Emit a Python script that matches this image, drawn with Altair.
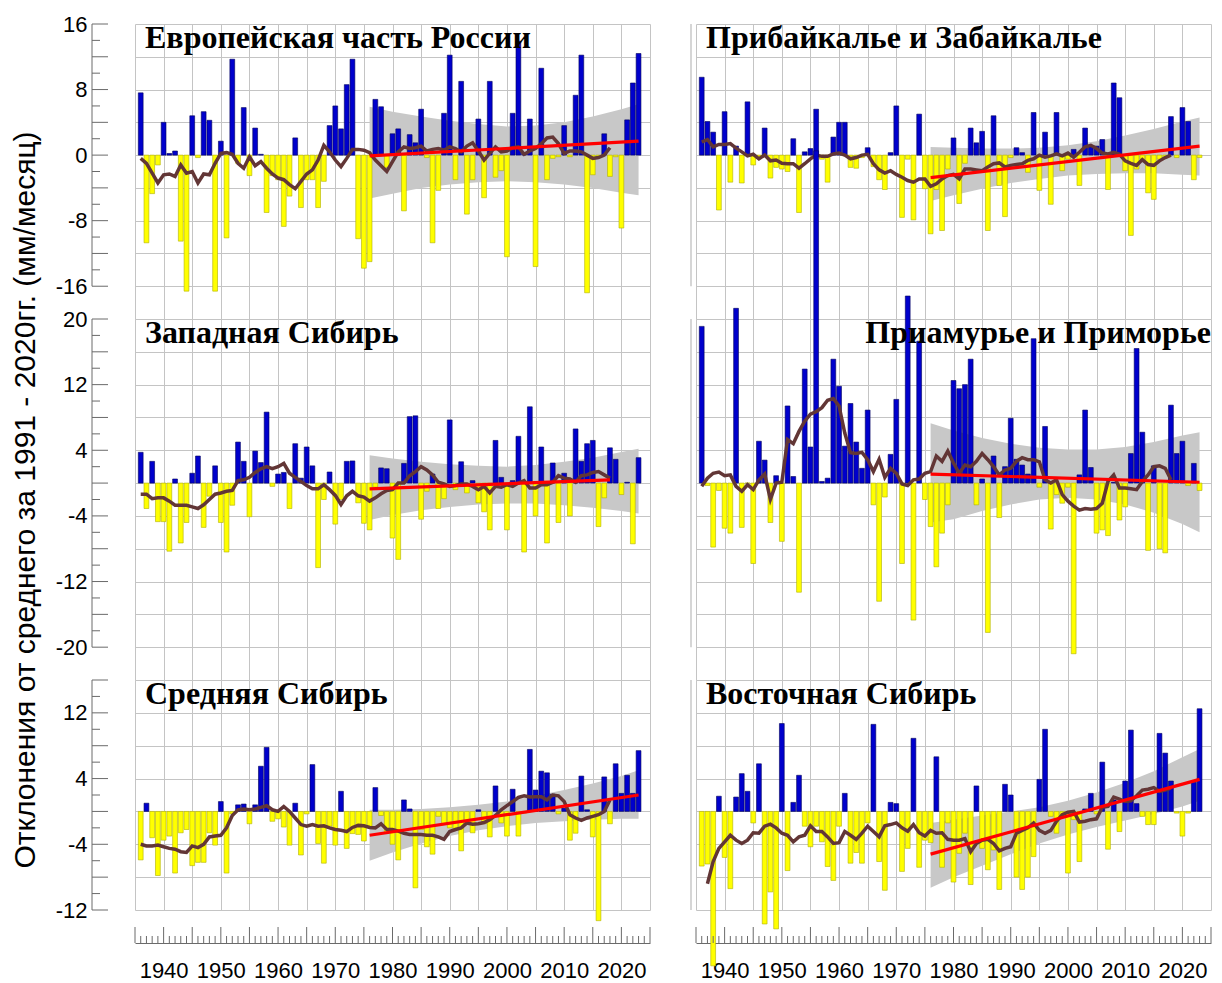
import altair as alt
import pandas as pd

# ---------------- data ----------------
years = list(range(1936, 2024))
line_years = list(range(1936, 2019))
line_years_vost = list(range(1937, 2019))
band_years = [1976, 1980, 1985, 1990, 1995, 2000, 2005, 2010, 2015, 2020, 2023]

eur_vals = [7.6, -10.7, -4.7, -1.2, 4.0, 0.2, 0.5, -10.5, -16.6, 4.8,
            -0.3, 5.3, 4.25, -16.6, 1.7, -10.1, 11.7, -1.0, 5.8, -2.5,
            3.3, 0.1, -7.0, -2.5, -3.0, -8.7, -5.0, 2.1, -6.4, -3.0,
            -3.0, -6.4, -3.2, 3.6, 6.0, 3.2, 8.6, 11.7, -10.2, -13.8,
            -13.0, 6.8, 5.9, -1.5, 2.6, 3.2, -6.8, 2.5, 1.5, 5.6,
            -0.3, -10.7, -4.3, 5.1, 12.2, -3.0, 9.0, -7.2, -3.0, 4.4,
            -5.2, 9.0, -2.7, -1.9, -12.4, 5.1, 13.9, 0.3, 4.4, -13.6,
            10.6, -3.0, -0.4, -0.2, 3.6, -0.2, 7.3, 12.2, -16.8, -2.4,
            -0.2, 2.6, -2.6, -0.2, -8.9, 4.3, 8.8, 12.4]
eur_line = [-0.4, -1.0, -2.2, -3.4, -2.4, -2.3, -2.6, -1.2, -2.2, -2.0,
            -3.4, -2.3, -2.4, -1.0, 0.2, 0.3, 0.1, -1.0, -1.6, -0.2,
            -1.3, -0.8, -1.6, -2.3, -2.8, -3.0, -3.6, -4.1, -3.2, -2.3,
            -1.8, -0.6, 1.2, 0.4, -0.6, -1.4, -0.4, 0.7, 0.7, 0.6,
            0.3, -0.6, -1.3, -2.0, -0.8, 0.4, 1.0, 0.8, 0.9, 1.1,
            0.5, 0.7, 0.8, 0.6, 1.0, 0.8, 0.4, 1.1, 1.5, 0.5,
            -0.6, 0.2, 1.0, 0.4, 0.5, 0.9, 1.0, 0.1, 0.5, 0.8,
            1.4, 2.1, 2.2, 1.4, 0.2, 0.5, 0.5, 0.4, 0.0, -0.4,
            -0.3, 0.0, 0.9]
eur_trend_years = [1976, 2023]
eur_trend = [-0.1, 1.7]
eur_hi = [5.9, 5.3, 4.7, 4.2, 3.8, 3.5, 3.6, 4.0, 4.7, 5.6, 6.2]
eur_lo = [-5.3, -4.7, -4.0, -3.6, -3.3, -3.2, -3.3, -3.6, -4.0, -4.6, -4.9]

zap_vals = [3.75, -3.1, 2.65, -4.7, -4.7, -8.3, 0.5, -7.3, -4.8, 1.2,
            3.3, -5.4, -1.6, 2.1, -4.8, -8.4, -2.7, 5.0, 2.65, -4.1,
            3.9, 2.5, 8.65, -0.4, 1.1, 1.3, -3.1, 4.8, 0.6, 4.4,
            2.1, -10.3, -2.0, 1.35, -5.0, -2.0, 2.65, 2.7, -2.4, -4.9,
            -5.7, -0.5, 1.85, 1.75, -6.7, -9.3, 2.4, 8.1, 8.2, -4.4,
            -1.0, 1.1, -3.1, -1.9, 7.7, -0.8, 2.6, -1.2, 0.3, -2.4,
            -3.5, -5.7, 5.2, 0.7, -5.7, 0.3, 5.7, -8.4, 9.3, -4.0,
            4.4, -7.3, 2.45, -4.8, 1.2, -4.0, 6.6, 2.65, 4.8, 5.2,
            -5.3, -1.8, 4.3, 2.9, -1.4, 0.1, -7.4, 3.1]
zap_line = [-1.35, -1.35, -1.9, -1.8, -1.8, -2.2, -2.7, -2.7, -2.7, -2.9,
            -3.1, -2.65, -2.0, -1.35, -1.2, -1.0, -0.9, 0.3, 0.4, 0.7,
            1.3, 1.75, 2.0, 1.75, 2.0, 2.4, 1.2, 0.7, 0.2, -0.3,
            -0.7, -0.7, -0.2, -0.8, -1.5, -2.6, -1.55, -1.0, -1.55, -1.7,
            -2.2, -1.8, -1.3, -0.9, -0.8, 0.0, 0.0, 0.9, 1.4, 2.0,
            1.6, 1.0, 0.1, -0.1, -0.4, -0.3, -0.1, -0.1, -0.4, -0.8,
            -0.4, -1.2, -0.4, -0.5, -0.2, -0.4, 0.0, 0.3, -0.6, -0.6,
            -0.2, -0.2, 0.1, 0.9, 0.6, 0.5, 0.1, 0.9, 1.0, 1.3,
            1.4, 1.0, 0.6]
zap_trend_years = [1976, 2018]
zap_trend = [-0.7, 0.4]
zap_hi = [3.4, 3.0, 2.6, 2.3, 2.1, 2.0, 2.2, 2.6, 3.1, 3.8, 4.2]
zap_lo = [-4.5, -3.9, -3.3, -2.9, -2.6, -2.5, -2.5, -2.7, -3.0, -3.4, -3.7]

sred_vals = [-5.9, 1.0, -3.2, -7.8, -3.5, -3.0, -7.5, -2.6, -2.2, -6.6,
             -6.2, -6.2, -2.6, -4.1, 1.2, -7.5, -0.3, 0.8, 0.9, -1.5,
             0.8, 5.5, 7.8, -1.2, -0.9, -1.9, -4.1, 1.0, -5.3, -0.3,
             5.7, -3.9, -6.3, -1.8, -4.1, 2.45, -4.5, -2.7, -2.8, -3.6,
             -1.8, 2.9, -0.5, -2.6, -4.0, -5.9, 1.4, 0.3, -9.3, -2.2,
             -4.3, -5.2, -0.6, -1.5, -2.0, -2.2, -4.8, -1.6, -2.6, 0.2,
             -1.5, -3.1, 3.1, -1.4, -3.0, 2.7, -3.0, -0.2, 7.55, 2.6,
             4.9, 4.7, 2.1, -0.3, 0.4, -3.5, -2.65, 4.3, 0.2, -3.1,
             -13.3, 4.2, -1.5, 5.8, 2.2, 4.4, 2.2, 7.4]
sred_line = [-4.0, -4.2, -4.2, -4.1, -4.3, -4.5, -4.6, -4.9, -5.0, -4.2,
             -4.4, -4.0, -3.1, -3.0, -2.9, -2.0, -0.5, 0.2, 0.3, 0.2,
             0.3, 0.5, 0.7, 0.2, 0.0, 0.6, 0.0, -0.8, -1.6, -1.8,
             -1.6, -1.8, -1.75, -2.0, -2.2, -2.3, -2.45, -1.95, -1.7, -1.75,
             -1.95, -2.0, -1.5, -2.2, -2.2, -2.4, -2.65, -2.8, -2.8, -2.8,
             -2.9, -2.9, -3.1, -3.4, -2.45, -2.2, -2.0, -1.4, -1.55, -1.5,
             -1.35, -1.0, -0.5, 0.2, 0.7, 1.2, 1.7, 1.9, 1.75, 1.8,
             1.8, 1.4, 2.0, 1.9, 1.2, -0.4, -0.8, -1.1, -0.8, -0.6,
             -0.4, 0.0, 1.4]
sred_trend_years = [1976, 2023]
sred_trend = [-2.9, 2.0]
sred_hi = [0.2, 0.2, 0.3, 0.5, 0.8, 1.2, 1.9, 2.6, 3.4, 4.3, 5.0]
sred_lo = [-6.0, -5.0, -3.9, -3.0, -2.3, -1.8, -1.4, -1.2, -1.0, -0.9, -0.9]

prib_vals = [9.5, 4.1, 2.8, -6.7, 5.3, -3.3, 1.1, -3.4, 6.5, -1.2,
             -0.3, 3.3, -2.8, -1.5, -1.7, -2.0, 2.0, -7.0, 0.4, 0.8,
             5.6, -0.5, -3.3, 2.2, 4.0, 4.0, -1.5, -1.6, -0.3, 0.9,
             -1.4, -3.0, -4.2, 0.3, 6.0, -7.6, -0.5, -7.9, 5.0, -4.1,
             -9.6, -4.2, -9.2, -1.7, 2.1, -5.9, -1.0, 3.3, 1.5, 2.9,
             -9.2, 4.8, -3.7, -7.5, -0.3, 0.9, 0.3, -2.1, 5.2, -4.3,
             2.8, -6.0, 5.2, -1.9, -0.5, 0.7, -3.7, 3.3, 1.0, 1.1,
             1.9, -4.2, 8.8, 7.0, -1.9, -9.8, -1.7, -0.5, -4.6, -5.4,
             -0.5, -0.3, 4.7, -0.3, 5.8, 4.1, -3.0, -0.3]
prib_line = [1.6, 1.9, 1.0, 1.3, 1.3, 1.4, 0.85, 0.4, -0.1, 0.1,
             -0.45, 0.0, -0.7, -0.6, -1.0, -1.05, -1.05, -1.6, -1.05, -0.45,
             0.0, -0.15, -0.15, 0.15, 0.25, 0.0, -0.45, -0.3, 0.0, 0.1,
             -1.05, -1.8, -2.2, -1.9, -2.35, -2.7, -3.1, -3.3, -2.9, -2.9,
             -3.8, -3.5, -2.9, -2.5, -2.35, -2.9, -1.7, -1.7, -1.8, -1.9,
             -1.45, -1.05, -0.95, -1.45, -1.25, -1.15, -1.05, -0.65, -0.45, 0.0,
             -0.25, -0.1, 0.15, -0.1, 0.25, -0.25, 0.35, 1.0, 1.2, 0.8,
             0.25, 0.15, 0.35, 0.1, -0.7, -1.0, -1.25, -0.55, -1.15, -1.25,
             -0.7, -0.3, 0.0]
prib_trend_years = [1976, 2023]
prib_trend = [-2.75, 1.1]
prib_hi = [1.0, 0.9, 0.8, 0.8, 0.9, 1.2, 1.7, 2.4, 3.2, 4.1, 4.6]
prib_lo = [-5.6, -4.9, -4.1, -3.4, -2.9, -2.5, -2.3, -2.2, -2.2, -2.4, -2.5]

priam_vals = [19.1, -0.3, -7.8, -0.9, -5.5, -6.1, 21.3, -5.4, 0.0, -9.8,
              5.1, 2.8, -4.8, 0.9, -7.1, 9.4, 0.8, -13.3, 13.9, 4.4,
              40.5, 0.2, 0.6, 15.1, 11.8, 4.5, 9.7, 5.0, 1.8, 8.9,
              -2.65, -14.4, -1.7, 3.5, 10.2, -9.8, 22.8, -16.7, 17.3, -2.0,
              -5.3, -10.2, -6.1, -2.65, 12.5, 11.5, 12.0, 15.1, -2.65, 0.5,
              -18.2, 3.3, -4.2, 2.0, 7.9, 2.9, 2.2, 1.1, 17.6, -0.5,
              6.9, -5.6, -1.4, -2.45, -0.5, -20.8, 1.0, 8.9, 1.9, -6.1,
              -5.7, -6.4, 0.1, -4.5, -2.9, 3.6, 16.4, 6.2, -8.2, 2.1,
              -8.0, -8.5, 9.5, 3.6, 5.1, -0.3, 2.4, -0.9]
priam_line = [-0.4, 0.6, 1.2, 1.35, 0.9, 1.0, -0.4, -1.0, -0.2, -0.8,
              0.4, 1.1, -2.0, 0.0, 0.1, 5.3, 4.8, 6.3, 7.55, 8.4,
              8.7, 9.2, 10.1, 10.3, 9.4, 6.1, 3.7, 3.6, 3.75, 2.85,
              1.4, 2.9, 0.7, 1.8, 1.2, -0.1, -0.3, 0.4, 0.5, 1.2,
              1.4, 3.3, 2.65, 3.9, 2.45, 1.2, 2.2, 2.0, 2.65, 3.6,
              2.85, 2.0, 1.0, 1.6, 1.8, 2.65, 3.1, 2.85, 2.85, 2.6,
              0.4, 0.0, 0.4, -1.4, -2.2, -2.8, -3.3, -3.1, -3.2, -3.1,
              -2.45, 0.2, 1.0, -0.6, -0.6, -0.7, -0.8, 0.2, 1.0, 2.0,
              2.1, 1.8, 0.4]
priam_trend_years = [1976, 2023]
priam_trend = [1.1, 0.1]
priam_hi = [7.3, 6.4, 5.5, 4.8, 4.3, 4.1, 4.1, 4.4, 5.0, 5.8, 6.2]
priam_lo = [-4.8, -4.4, -3.4, -2.6, -2.0, -1.8, -2.0, -2.6, -3.6, -5.0, -6.0]

vost_vals = [-6.65, -6.4, -18.8, 1.85, -5.6, -9.4, 1.75, 4.6, 2.45, -1.4,
             5.8, -13.7, -9.8, -14.3, 10.7, -7.2, 1.1, 4.4, -1.8, -4.3,
             -1.8, -3.7, -6.7, -8.4, -1.8, 2.2, -6.3, -5.0, -6.3, -1.4,
             10.6, -6.1, -9.6, 1.1, 0.95, -7.3, -4.5, 8.9, -6.8, -3.5,
             -3.8, 6.65, -6.8, -1.4, -8.6, -5.1, -2.65, -8.9, 3.1, -4.5,
             -7.1, -4.7, -9.5, 3.3, 2.0, -8.0, -9.5, -8.0, -5.5, 3.9,
             10.0, -0.6, -2.65, -0.6, -7.5, -1.0, -6.1, 0.3, 2.2, -0.3,
             6.0, -4.6, 1.4, -2.45, 3.7, 9.9, 0.95, -0.6, -1.6, -1.6,
             9.5, 7.1, 3.7, -0.2, -3.0, -0.2, 3.55, 12.5]
vost_line = [-8.8, -6.1, -4.5, -3.7, -2.9, -3.5, -3.9, -3.5, -2.6, -2.65,
             -1.8, -1.55, -2.0, -2.65, -2.9, -3.7, -3.1, -2.9, -1.75, -2.45,
             -2.45, -3.1, -3.9, -3.8, -2.45, -2.9, -3.4, -2.65, -1.8, -2.45,
             -3.1, -1.75, -1.6, -1.4, -2.0, -2.4, -1.6, -2.6, -3.0, -2.3,
             -2.65, -2.6, -3.4, -3.5, -3.5, -3.3, -4.9, -3.9, -3.5, -3.4,
             -3.9, -4.8, -4.5, -4.3, -2.65, -2.3, -2.0, -1.4, -2.3, -2.65,
             -2.3, -1.2, -0.4, -0.1, 0.0, -1.3, -1.2, -1.0, -0.9, 0.5,
             0.6, 1.75, 1.5, 1.2, 1.3, 1.9, 2.6, 2.7, 2.9, 2.45,
             2.6, 2.85]
vost_trend_years = [1976, 2023]
vost_trend = [-5.2, 3.9]
vost_hi = [-1.4, -1.0, -0.5, 0.0, 0.5, 1.3, 2.3, 3.5, 4.9, 6.6, 7.6]
vost_lo = [-9.3, -8.0, -6.6, -5.2, -3.9, -2.8, -1.9, -1.1, -0.3, 0.6, 1.3]

titles = ["Европейская часть России", "Прибайкалье и Забайкалье",
          "Западная Сибирь", "Приамурье и Приморье",
          "Средняя Сибирь", "Восточная Сибирь"]
y_title = "Отклонения от среднего за 1991 - 2020гг. (мм/месяц)"
x_label_years = list(range(1940, 2021, 10))

# ---------------- style ----------------
BLUE = "#0000cc"
BLUE_S = "#00005a"
YEL = "#ffff00"
YEL_S = "#b0b000"
BAND = "#c8c8c8"
GRID = "#c4c4c4"
BROWN = "#623636"
RED = "#ff0000"
AX = "#6a6a6a"
SANS = "Liberation Sans"
SERIF = "Liberation Serif"
W = 515
PX_PER_UNIT = 8.2


def make_panel(title, vals, lyears, lvals, tyears, tvals, hi, lo,
               ydom, arange, labmod, left, bottom, ytitle=None, title_right=False):
    h = round((ydom[1] - ydom[0]) * PX_PER_UNIT)
    xs = alt.Scale(domain=[1935, 2025], nice=False, zero=False)
    ys = alt.Scale(domain=ydom, nice=False, zero=False)
    xaxis_kw = dict(values=list(range(1935, 2026, 5)), grid=True, gridColor=GRID, gridWidth=1,
                    ticks=False, domain=bottom, labels=bottom, title=None)
    if bottom:
        xaxis_kw.update(offset=33, domainColor=AX, domainWidth=1,
                        labelExpr="indexof([" + ",".join(str(v) for v in x_label_years) +
                                  "], datum.value) >= 0 ? toString(datum.value) : ''",
                        labelFont=SANS, labelFontSize=22, labelColor="#000",
                        labelPadding=17, labelOverlap=False)
    xaxis = alt.Axis(**xaxis_kw)
    yaxis_kw = dict(values=list(range(ydom[0], ydom[1] + 1, 4)), grid=True, gridColor=GRID,
                    gridWidth=1, ticks=False, domain=False, labels=left, title=None)
    if left:
        yaxis_kw.update(offset=43, labelPadding=5, labelFont=SANS, labelFontSize=22,
                        labelColor="#000", labelOverlap=False,
                        labelExpr="abs(datum.value % 8) == " + str(labmod) +
                                  " ? toString(datum.value) : ''")
    if ytitle:
        yaxis_kw.update(title=ytitle, titleFont=SANS, titleFontSize=30, titleFontWeight="normal",
                        titleColor="#000", titlePadding=15)
    yaxis = alt.Axis(**yaxis_kw)

    def X(f):
        return alt.X(f, type="quantitative", scale=xs, axis=xaxis)

    def Y(f):
        return alt.Y(f, type="quantitative", scale=ys, axis=yaxis)

    band_df = pd.DataFrame({"year": band_years, "hi": hi, "lo": lo})
    bars_df = pd.DataFrame({"year": years, "v": vals})
    line_df = pd.DataFrame({"year": lyears, "v": lvals})
    trend_df = pd.DataFrame({"year": tyears, "v": tvals})

    band = alt.Chart(band_df).mark_area(color=BAND, opacity=1).encode(
        x=X("year"), y=Y("lo"), y2=alt.Y2("hi"))
    bars = alt.Chart(bars_df).transform_calculate(
        x0="datum.year - 0.42", x1="datum.year + 0.42"
    ).mark_bar(strokeWidth=0.6).encode(
        x=X("x0"), x2=alt.X2("x1"), y=Y("v"), y2=alt.datum(0),
        color=alt.condition("datum.v > 0", alt.value(BLUE), alt.value(YEL)),
        stroke=alt.condition("datum.v > 0", alt.value(BLUE_S), alt.value(YEL_S)))
    line = alt.Chart(line_df).mark_line(color=BROWN, strokeWidth=3.5).encode(x=X("year"), y=Y("v"))
    trend = alt.Chart(trend_df).mark_line(color=RED, strokeWidth=3.2).encode(x=X("year"), y=Y("v"))

    layers = [band, bars, line, trend]

    ax_df = pd.DataFrame({"a": [arange[1]], "b": [arange[0]]})
    if left:
        major = [v for v in range(arange[0], arange[1] + 1) if v % 4 == 0]
        minor = [v for v in range(arange[0], arange[1] + 1) if v % 4 != 0 and v % 2 == 0]
        layers.append(alt.Chart(ax_df).mark_rule(color=AX, strokeWidth=1).encode(
            x=alt.value(-43), y=Y("a"), y2=alt.Y2("b")))
        layers.append(alt.Chart(pd.DataFrame({"t": major})).mark_rule(color=AX, strokeWidth=1).encode(
            x=alt.value(-43), x2=alt.value(-27), y=Y("t")))
        layers.append(alt.Chart(pd.DataFrame({"t": minor})).mark_rule(color=AX, strokeWidth=1).encode(
            x=alt.value(-43), x2=alt.value(-35), y=Y("t")))
    else:
        layers.append(alt.Chart(ax_df).mark_rule(color="#c8c8c8", strokeWidth=1.5).encode(
            x=alt.value(-5), y=Y("a"), y2=alt.Y2("b")))

    if bottom:
        xmaj = list(range(1935, 2026, 5))
        xmin = [v for v in range(1936, 2025) if v % 5 != 0]
        layers.append(alt.Chart(pd.DataFrame({"t": xmaj})).mark_rule(color=AX, strokeWidth=1).encode(
            x=X("t"), y=alt.value(h + 33), y2=alt.value(h + 17)))
        layers.append(alt.Chart(pd.DataFrame({"t": xmin})).mark_rule(color=AX, strokeWidth=1).encode(
            x=X("t"), y=alt.value(h + 33), y2=alt.value(h + 26)))

    ttl = alt.Chart(pd.DataFrame({"t": [title]})).mark_text(
        align="right" if title_right else "left", baseline="alphabetic",
        font=SERIF, fontWeight="bold", fontSize=32, color="#000"
    ).encode(text="t:N", x=alt.value(W if title_right else 10),
             y=alt.value(24))
    layers.append(ttl)

    return alt.layer(*layers).properties(width=W, height=h)


p1 = make_panel(titles[0], eur_vals, line_years, eur_line, eur_trend_years, eur_trend, eur_hi, eur_lo,
                [-20, 16], [-16, 16], 0, True, False)
p2 = make_panel(titles[1], prib_vals, line_years, prib_line, prib_trend_years, prib_trend, prib_hi, prib_lo,
                [-20, 16], [-16, 16], 0, False, False)
p3 = make_panel(titles[2], zap_vals, line_years, zap_line, zap_trend_years, zap_trend, zap_hi, zap_lo,
                [-24, 20], [-20, 20], 4, True, False, ytitle=y_title)
p4 = make_panel(titles[3], priam_vals, line_years, priam_line, priam_trend_years, priam_trend, priam_hi, priam_lo,
                [-24, 20], [-20, 20], 4, False, False, title_right=True)
p5 = make_panel(titles[4], sred_vals, line_years, sred_line, sred_trend_years, sred_trend, sred_hi, sred_lo,
                [-12, 16], [-12, 16], 4, True, True)
p6 = make_panel(titles[5], vost_vals, line_years_vost, vost_line, vost_trend_years, vost_trend, vost_hi, vost_lo,
                [-12, 16], [-12, 16], 4, False, True)

chart = alt.concat(p1, p2, p3, p4, p5, p6, columns=2,
                   spacing={"row": 0, "column": 46}, bounds="flush").properties(
    padding={"left": 1, "top": 4, "right": 0, "bottom": 0}
).configure_view(stroke="transparent")

chart.save("out.html", embed_options={"renderer": "svg", "actions": False})
